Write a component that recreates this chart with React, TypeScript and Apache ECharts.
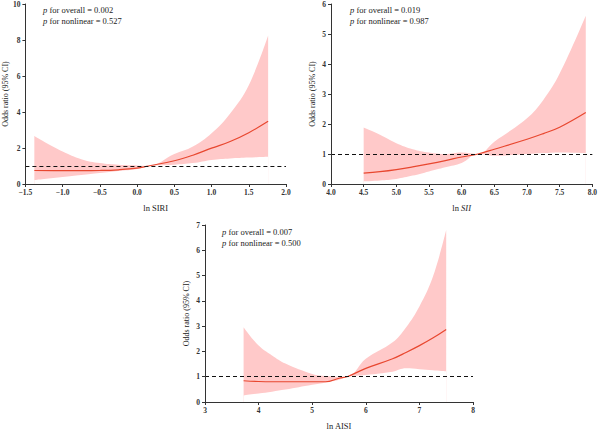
import React, { useEffect, useRef } from "react";
import * as echarts from "echarts";

// ln SIRI panel
const siriX = [-1.38, -1.0, -0.75, -0.5, -0.25, 0.0, 0.15, 0.5, 0.75, 1.0, 1.25, 1.5, 1.76];
const siriOR = [0.75, 0.74, 0.74, 0.75, 0.79, 0.88, 1.0, 1.29, 1.6, 1.99, 2.36, 2.85, 3.48];
const siriUpper = [2.67, 1.8, 1.38, 1.16, 1.07, 1.03, 1.0, 1.66, 2.08, 2.82, 3.92, 5.49, 8.25];
const siriLower = [0.22, 0.39, 0.5, 0.61, 0.72, 0.83, 1.0, 1.07, 1.16, 1.34, 1.42, 1.47, 1.51];

// ln SII panel
const siiX = [4.5, 4.75, 5.0, 5.25, 5.5, 5.75, 6.0, 6.25, 6.5, 7.0, 7.25, 7.5, 7.9];
const siiOR = [0.36, 0.41, 0.48, 0.57, 0.67, 0.78, 0.9, 1.0, 1.16, 1.49, 1.68, 1.89, 2.38];
const siiUpper = [1.88, 1.64, 1.36, 1.16, 1.05, 1.0, 1.05, 1.0, 1.41, 2.19, 2.8, 3.68, 5.61];
const siiLower = [0.09, 0.12, 0.17, 0.28, 0.42, 0.56, 0.7, 1.0, 0.94, 1.0, 1.03, 1.05, 1.03];

// ln AISI panel
const aisiX = [3.72, 4.0, 4.25, 4.5, 5.0, 5.25, 5.5, 5.65, 6.0, 6.5, 6.75, 7.0, 7.25, 7.5];
const aisiOR = [0.84, 0.81, 0.8, 0.8, 0.8, 0.8, 0.94, 1.0, 1.33, 1.71, 1.96, 2.23, 2.53, 2.87];
const aisiUpper = [2.96, 2.23, 1.84, 1.52, 1.11, 1.03, 1.0, 1.0, 1.71, 2.36, 2.95, 3.78, 4.94, 6.8];
const aisiLower = [0.26, 0.34, 0.41, 0.49, 0.68, 0.77, 0.88, 1.0, 1.07, 1.2, 1.33, 1.3, 1.26, 1.22];

const pOverall = ["0.002", "0.019", "0.007"];
const pNonlinear = ["0.527", "0.987", "0.500"];

const FONT = "Liberation Serif";
const BAND = "#ffc9c9";
const LINE = "#e8472f";
const INK = "#222222";
const NOTE_SIZE = 8.5;

type Panel = {
  x: number[];
  or: number[];
  up: number[];
  lo: number[];
  xMin: number;
  xMax: number;
  xInterval: number;
  yMax: number;
  yInterval: number;
  decimals: number;
  xName: string;
  noteOffset: number;
  grid: { left: number; top: number; width: number; height: number };
};

const panels: Panel[] = [
  {
    x: siriX, or: siriOR, up: siriUpper, lo: siriLower,
    xMin: -1.5, xMax: 2.0, xInterval: 0.5, yMax: 10, yInterval: 2, decimals: 1,
    xName: "ln SIRI", noteOffset: 21,
    grid: { left: 22, top: 3.5, width: 264, height: 180.5 },
  },
  {
    x: siiX, or: siiOR, up: siiUpper, lo: siiLower,
    xMin: 4.0, xMax: 8.0, xInterval: 0.5, yMax: 6, yInterval: 1, decimals: 1,
    xName: "ln {i|SII}", noteOffset: 19,
    grid: { left: 331, top: 3.5, width: 265, height: 180.5 },
  },
  {
    x: aisiX, or: aisiOR, up: aisiUpper, lo: aisiLower,
    xMin: 3, xMax: 8, xInterval: 1, yMax: 7, yInterval: 1, decimals: 0,
    xName: "ln AISI", noteOffset: 17,
    grid: { left: 205, top: 225, width: 268, height: 181 },
  },
];

export default function App() {
  const ref = useRef<HTMLDivElement>(null);

  useEffect(() => {
    if (!ref.current) return;
    const chart = echarts.init(ref.current, undefined, { renderer: "svg" });

    const grids: any[] = [];
    const xAxes: any[] = [];
    const yAxes: any[] = [];
    const series: any[] = [];
    const graphics: any[] = [];

    panels.forEach((p, i) => {
      grids.push({ ...p.grid, containLabel: false });
      xAxes.push({
        type: "value",
        gridIndex: i,
        z: 6,
        min: p.xMin,
        max: p.xMax,
        interval: p.xInterval,
        name: p.xName,
        nameLocation: "middle",
        nameGap: 19,
        nameTextStyle: {
          fontFamily: FONT,
          fontSize: 8.5,
          color: INK,
          rich: { i: { fontFamily: FONT, fontSize: 8.5, fontStyle: "italic", color: INK } },
        },
        axisLine: { onZero: false, lineStyle: { color: "#333", width: 1 } },
        axisTick: { length: 3, lineStyle: { color: "#333" } },
        axisLabel: {
          fontFamily: FONT,
          fontSize: 7.5,
          fontWeight: "bold",
          color: "#333",
          margin: 4,
          formatter: (v: number) => v.toFixed(p.decimals).replace("-", "\u2212"),
        },
        splitLine: { show: false },
      });
      yAxes.push({
        type: "value",
        gridIndex: i,
        z: 6,
        min: 0,
        max: p.yMax,
        interval: p.yInterval,
        name: "Odds ratio (95% CI)",
        nameLocation: "middle",
        nameRotate: 90,
        nameGap: 15,
        nameTextStyle: { fontFamily: FONT, fontSize: 8, color: INK },
        axisLine: { show: true, onZero: false, lineStyle: { color: "#333", width: 1 } },
        axisTick: { show: true, length: 3, lineStyle: { color: "#333" } },
        axisLabel: {
          fontFamily: FONT,
          fontSize: 7.5,
          fontWeight: "bold",
          color: "#333",
          margin: 5,
        },
        splitLine: { show: false },
      });

      // 95% CI band: fill under the upper bound, then clear under the lower bound
      series.push({
        type: "line",
        xAxisIndex: i,
        yAxisIndex: i,
        data: p.x.map((x, k) => [x, p.up[k]]),
        smooth: 0.4,
        showSymbol: false,
        lineStyle: { width: 0, opacity: 0 },
        areaStyle: { color: BAND, opacity: 1, origin: "start" },
        silent: true,
        z: 1,
      });
      series.push({
        type: "line",
        xAxisIndex: i,
        yAxisIndex: i,
        data: p.x.map((x, k) => [x, p.lo[k]]),
        smooth: 0.4,
        showSymbol: false,
        lineStyle: { width: 0, opacity: 0 },
        areaStyle: { color: "#ffffff", opacity: 1, origin: "start" },
        silent: true,
        z: 2,
      });

      series.push({
        type: "line",
        xAxisIndex: i,
        yAxisIndex: i,
        data: p.x.map((x, k) => [x, p.or[k]]),
        smooth: 0.4,
        showSymbol: false,
        lineStyle: { color: LINE, width: 1.2 },
        z: 3,
        markLine: {
          silent: true,
          symbol: "none",
          label: { show: false },
          lineStyle: { color: "#111", type: [4, 3], width: 1 },
          data: [{ yAxis: 1 }],
          z: 4,
        },
      });

      graphics.push({
        type: "text",
        left: p.grid.left + p.noteOffset,
        top: p.grid.top + 1,
        style: {
          text: `{i|p}{n| for overall = ${pOverall[i]}}\n{i|p}{n| for nonlinear = ${pNonlinear[i]}}`,
          fontFamily: FONT,
          fontSize: NOTE_SIZE,
          lineHeight: 11,
          fill: INK,
          rich: {
            i: { fontFamily: FONT, fontSize: NOTE_SIZE, fontStyle: "italic", fill: INK, lineHeight: 11 },
            n: { fontFamily: FONT, fontSize: NOTE_SIZE, fill: INK, lineHeight: 11 },
          },
        },
        z: 10,
      });
    });

    chart.setOption({
      animation: false,
      backgroundColor: "#ffffff",
      grid: grids,
      xAxis: xAxes,
      yAxis: yAxes,
      series,
      graphic: graphics,
    });

    return () => chart.dispose();
  }, []);

  return (
    <div
      ref={ref}
      style={{ position: "fixed", left: 0, top: 0, width: 600, height: 431, background: "#fff" }}
    />
  );
}
